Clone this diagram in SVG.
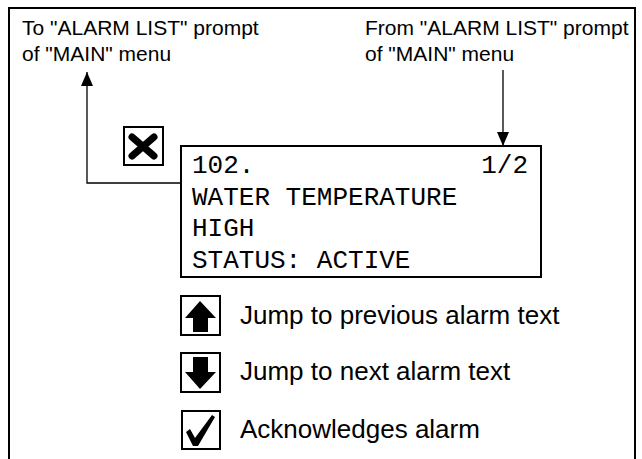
<svg xmlns="http://www.w3.org/2000/svg" width="642" height="459" viewBox="0 0 642 459">
<defs>
<style>
.lbl{font-family:"Liberation Sans",Arial,sans-serif;font-size:21px;fill:#000}
.big{font-family:"Liberation Sans",Arial,sans-serif;font-size:26px;fill:#000}
.lcd{font-family:"Liberation Mono","Courier New",monospace;font-size:26px;fill:#000}
.box{fill:#fff;stroke:#000;stroke-width:2}
.conn{fill:none;stroke:#000;stroke-width:1.3}
</style>
<marker id="ah2" viewBox="0 0 14 12" refX="14" refY="6" markerWidth="14" markerHeight="12" markerUnits="userSpaceOnUse" orient="auto">
<path d="M0,0 L14,6 L0,12 Z" fill="#000"/>
</marker>
</defs>
<rect id="frame" x="9" y="8" width="626" height="470" fill="none" stroke="#000" stroke-width="2"/>
<g id="label-to">
<text class="lbl" x="22" y="35">To "ALARM LIST" prompt</text>
<text class="lbl" x="22" y="61">of "MAIN" menu</text>
</g>
<g id="label-from">
<text class="lbl" x="365" y="35">From "ALARM LIST" prompt</text>
<text class="lbl" x="365" y="61">of "MAIN" menu</text>
</g>
<g id="connectors">
<path class="conn" d="M181,183 H87 V72" stroke="#444" marker-end="url(#ah2)"/>
<path class="conn" d="M503,70 V146" marker-end="url(#ah2)"/>
</g>
<g id="escape-key">
<rect class="box" x="124" y="127" width="39" height="38"/>
<path d="M132,137 L154,156 M154,137 L132,156" stroke="#000" stroke-width="7" stroke-linecap="round"/>
</g>
<g id="lcd">
<rect class="box" x="181" y="146" width="360" height="131"/>
<text class="lcd" x="192" y="173">102.</text>
<text class="lcd" x="528" y="173" text-anchor="end">1/2</text>
<text class="lcd" x="192" y="205">WATER TEMPERATURE</text>
<text class="lcd" x="192" y="236">HIGH</text>
<text class="lcd" x="192" y="268">STATUS: ACTIVE</text>
</g>
<g id="up-key">
<rect class="box" x="181" y="296" width="39" height="39"/>
<path d="M200,301 L216,318 L208,318 L208,332 L193,332 L193,318 L185,318 Z" fill="#000"/>
<text class="big" x="240" y="324">Jump to previous alarm text</text>
</g>
<g id="down-key">
<rect class="box" x="181" y="353" width="39" height="39"/>
<path d="M200,389 L216,372 L208,372 L208,357 L193,357 L193,372 L185,372 Z" fill="#000"/>
<text class="big" x="240" y="380">Jump to next alarm text</text>
</g>
<g id="ack-key">
<rect class="box" x="182" y="411" width="38" height="38"/>
<path d="M186,432 L190,429 L195,438 L212,415 L215,417 L198,446 L193,446 Z" fill="#000"/>
<text class="big" x="240" y="438">Acknowledges alarm</text>
</g>
</svg>
